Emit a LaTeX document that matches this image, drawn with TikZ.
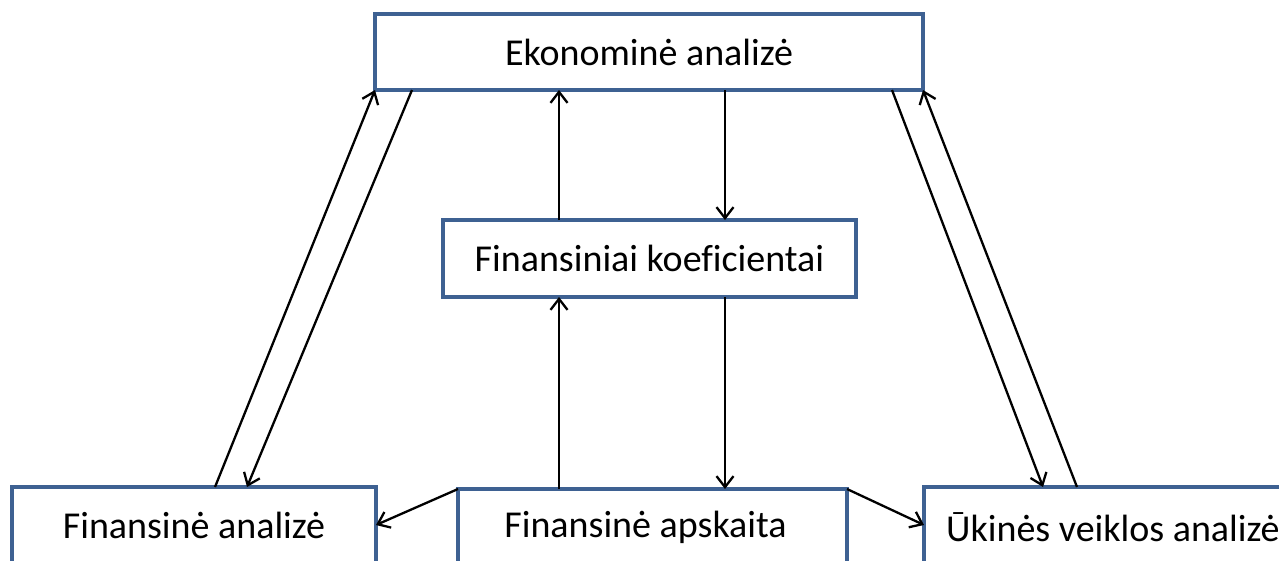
\documentclass[tikz,border=0pt]{standalone}
\usepackage{fontspec}
\setmainfont{Carlito}[Ligatures=NoCommon]
\usetikzlibrary{arrows.meta}
\definecolor{boxblue}{HTML}{3E6192}
\begin{document}
\begin{tikzpicture}[x=1pt,y=-1pt,
  box/.style={draw=boxblue,line width=3.6pt,fill=white,inner sep=0pt,outer sep=0pt,
    font=\fontsize{38}{45}\selectfont,text=black},
  arr/.style={draw=black,line width=2.3pt,-{Straight Barb[length=11pt,width=17pt,line width=2.3pt]}}]
\useasboundingbox (0,0) rectangle (1279,560);
\clip (0,0) rectangle (1279,560);
\node[box,minimum width=548pt,minimum height=76pt] (ea) at (649,52) {Ekonominė analizė};
\node[box,minimum width=413pt,minimum height=77pt] (fk) at (649.5,258.5) {Finansiniai koeficientai};
\node[box,minimum width=364pt,minimum height=76pt] (fa) at (194,525) {Finansinė analizė};
\node[box,minimum width=389pt,minimum height=76pt] (fap) at (652.5,527) {\hspace*{-14pt}Finansinė apskaita};
\node[box,minimum width=386pt,minimum height=76pt] (ua) at (1117,525) {};
\node[anchor=west,inner sep=0pt,font=\fontsize{38}{45}\selectfont] (uat) at ([xshift=22pt,yshift=-2pt]ua.west) {Ūkinės veiklos analizė};
% left pair
\draw[arr] ([xshift=21pt]fa.north) -- (ea.south west);
\draw[arr] ([xshift=37pt]ea.south west) -- ([xshift=53pt]fa.north);
% central verticals
\draw[arr] ([xshift=-90.5pt]fk.north) -- ([xshift=-90pt]ea.south);
\draw[arr] ([xshift=76pt]ea.south) -- ([xshift=75.5pt]fk.north);
\draw[arr] ([xshift=-93.5pt]fap.north) -- ([xshift=-90.5pt]fk.south);
\draw[arr] ([xshift=75.5pt]fk.south) -- ([xshift=72.5pt]fap.north);
% bottom sides
\draw[arr] (fap.north west) -- (fa.east);
\draw[arr] (fap.north east) -- (ua.west);
% right pair
\draw[arr] ([xshift=-31pt]ea.south east) -- ([xshift=119pt]ua.north west);
\draw[arr] ([xshift=153pt]ua.north west) -- (ea.south east);
\end{tikzpicture}
\end{document}
